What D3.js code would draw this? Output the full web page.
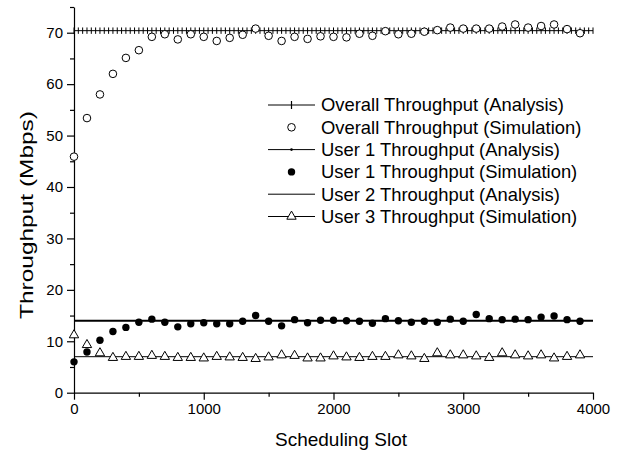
<!DOCTYPE html>
<html>
<head>
<meta charset="utf-8">
<script src="https://cdn.jsdelivr.net/npm/d3@7"></script>
<style>
  html, body { margin: 0; padding: 0; background: #fff; }
  svg { display: block; font-family: "Liberation Sans", Arial, sans-serif; }
</style>
</head>
<body>
<svg id="chart" width="621" height="455"></svg>
<script>
// ---- data ----
const slots = d3.range(0, 4000, 100); // 0..3900
const overallSim = [45.9,53.4,58.0,62.0,65.1,66.6,69.2,69.7,68.7,69.7,69.2,68.4,69.0,69.6,70.8,69.4,68.4,69.2,68.8,69.3,
                    69.2,69.1,69.8,69.4,70.3,69.7,69.8,70.2,70.5,71.0,70.8,70.8,70.8,71.2,71.6,71.0,71.3,71.6,70.7,69.9];
const user1Sim   = [6.0,7.9,10.2,11.9,12.7,13.7,14.3,13.7,12.8,13.4,13.6,13.4,13.4,13.9,15.0,13.9,13.0,14.2,13.6,14.1,
                    14.1,14.0,13.9,13.5,14.4,14.0,13.7,13.9,13.7,14.3,13.9,15.2,14.4,14.2,14.3,14.2,14.7,14.9,14.2,13.9];
const user3Sim   = [11.2,9.3,7.7,6.8,7.0,7.0,7.2,7.0,6.8,6.8,6.7,7.0,6.9,6.8,6.6,6.9,7.3,7.2,6.7,6.7,
                    7.1,6.9,6.8,7.0,7.0,7.3,7.1,6.6,7.7,7.3,7.3,7.1,6.8,7.7,7.3,7.1,7.3,6.7,7.0,7.3];
const overallAnalysis = 70.4;
const user1Analysis = 14.0;
const user2Analysis = 7.0;
const analysisSlots = d3.range(0, 4000.01, 100 / 3);
const xTicks = [0, 1000, 2000, 3000, 4000];
const yTicks = [0, 10, 20, 30, 40, 50, 60, 70];
const legendLabels = [
  "Overall Throughput (Analysis)",
  "Overall Throughput (Simulation)",
  "User 1 Throughput (Analysis)",
  "User 1 Throughput (Simulation)",
  "User 2 Throughput (Analysis)",
  "User 3 Throughput (Simulation)"
];

// ---- layout ----
const svg = d3.select("#chart");
const x = d3.scaleLinear().domain([0, 4000]).range([74, 593]);
const y = d3.scaleLinear().domain([0, 75]).range([392.7, 7]);

// axes
const xAxis = d3.axisBottom(x).tickValues(xTicks).tickFormat(d3.format("d"))
  .tickSize(7).tickPadding(4).tickSizeOuter(0);
const xMinor = d3.axisBottom(x).tickValues(d3.range(500, 4000, 1000)).tickSize(4).tickFormat("").tickSizeOuter(0);
const yAxis = d3.axisLeft(y).tickValues(yTicks).tickFormat(d3.format("d"))
  .tickSize(7).tickPadding(4).tickSizeOuter(0);
const yMinor = d3.axisLeft(y).tickValues(d3.range(5, 80, 10)).tickSize(4).tickFormat("").tickSizeOuter(0);

svg.append("g").attr("transform", `translate(0,${y(0)})`).call(xAxis);
svg.append("g").attr("transform", `translate(0,${y(0)})`).call(xMinor).select(".domain").remove();
svg.append("g").attr("transform", `translate(${x(0)},0)`).call(yAxis);
svg.append("g").attr("transform", `translate(${x(0)},0)`).call(yMinor).select(".domain").remove();

svg.selectAll(".tick text").attr("font-size", 15).attr("fill", "#000")
   .attr("font-family", '"Liberation Sans", Arial, sans-serif');
svg.selectAll(".domain, .tick line").attr("stroke", "#000").attr("stroke-width", 1.2);

// axis titles
svg.append("text")
  .attr("x", 341).attr("y", 446).attr("fill", "#000")
  .attr("text-anchor", "middle").attr("font-size", 19)
  .text("Scheduling Slot");
svg.append("text")
  .attr("transform", `translate(33,215) rotate(-90)`).attr("fill", "#000")
  .attr("text-anchor", "middle").attr("font-size", 19)
  .attr("textLength", 208).attr("lengthAdjust", "spacingAndGlyphs")
  .text("Throughput (Mbps)");

// ---- marks ----
const plot = svg.append("g");
const hline = (v, w) => plot.append("line")
  .attr("x1", x(0)).attr("x2", x(4000))
  .attr("y1", y(v)).attr("y2", y(v))
  .attr("stroke", "#000").attr("stroke-width", w);

// overall analysis with plus markers
hline(overallAnalysis, 1);
plot.append("g").selectAll("line").data(analysisSlots).join("line")
  .attr("x1", d => x(d)).attr("x2", d => x(d))
  .attr("y1", y(overallAnalysis) - 3.2).attr("y2", y(overallAnalysis) + 3.2)
  .attr("stroke", "#000").attr("stroke-width", 1);

// user 1 / user 2 analysis
hline(user1Analysis, 2);
hline(user2Analysis, 1);

const triPath = d3.symbol().type(d3.symbolTriangle).size(38)();

// overall simulation circles
plot.append("g").selectAll("circle").data(slots).join("circle")
  .attr("cx", d => x(d)).attr("cy", (d, i) => y(overallSim[i]))
  .attr("r", 3.8).attr("fill", "#fff").attr("stroke", "#000").attr("stroke-width", 1);

// user 1 simulation dots
plot.append("g").selectAll("circle").data(slots).join("circle")
  .attr("cx", d => x(d)).attr("cy", (d, i) => y(user1Sim[i]))
  .attr("r", 3.7).attr("fill", "#000");

// user 3 simulation triangles
plot.append("g").selectAll("path").data(slots).join("path")
  .attr("d", triPath)
  .attr("transform", (d, i) => `translate(${x(d)},${y(user3Sim[i])})`)
  .attr("fill", "#fff").attr("stroke", "#000").attr("stroke-width", 1);

// ---- legend ----
const leg = svg.append("g");
const rowY = i => 105 + i * 22.3;
const lx1 = 268, lx2 = 315, lsym = 291.5, ltext = 321;
legendLabels.forEach((lab, i) => {
  const yy = rowY(i);
  if (i === 0 || i === 2 || i === 4 || i === 5) {
    leg.append("line").attr("x1", lx1).attr("x2", lx2).attr("y1", yy).attr("y2", yy)
      .attr("stroke", "#000").attr("stroke-width", 1);
  }
  if (i === 0) {
    leg.append("line").attr("x1", lsym).attr("x2", lsym).attr("y1", yy - 4).attr("y2", yy + 4)
      .attr("stroke", "#000").attr("stroke-width", 1.2);
  } else if (i === 1) {
    leg.append("circle").attr("cx", lsym).attr("cy", yy).attr("r", 3.8)
      .attr("fill", "#fff").attr("stroke", "#000");
  } else if (i === 2) {
    leg.append("circle").attr("cx", lsym).attr("cy", yy).attr("r", 1.3).attr("fill", "#000");
  } else if (i === 3) {
    leg.append("circle").attr("cx", lsym).attr("cy", yy).attr("r", 3.7).attr("fill", "#000");
  } else if (i === 5) {
    leg.append("path").attr("d", triPath).attr("transform", `translate(${lsym},${yy})`)
      .attr("fill", "#fff").attr("stroke", "#000");
  }
  leg.append("text").attr("x", ltext).attr("y", yy).attr("dy", "0.35em").attr("fill", "#000")
    .attr("font-size", 18.4).text(lab);
});
</script>
</body>
</html>
